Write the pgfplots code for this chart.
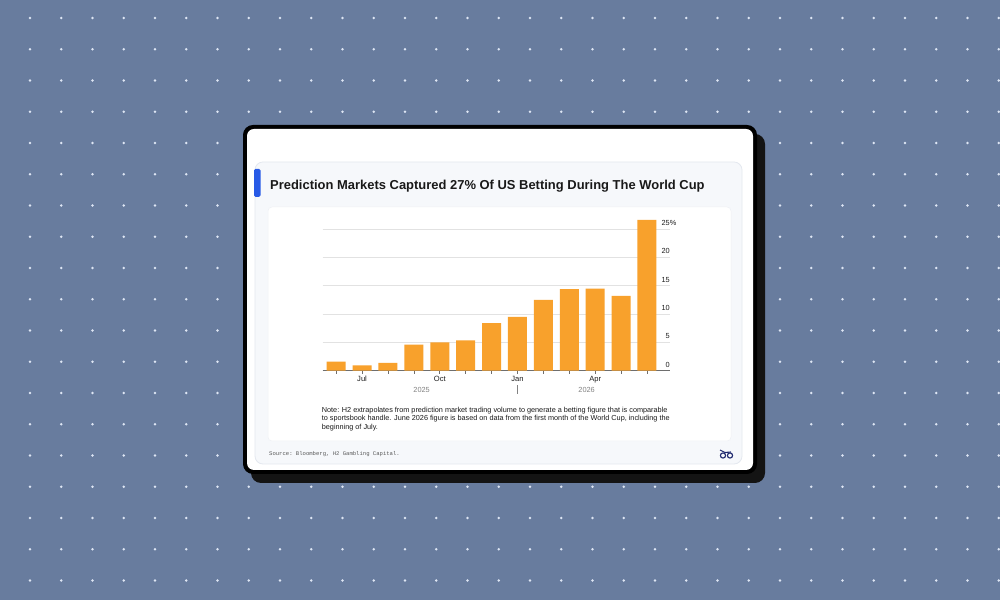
\documentclass[border=0pt]{standalone}
\usepackage{pgfplots}
\pgfplotsset{compat=1.18}
\usepackage{fontspec}
\setmainfont{Liberation Sans}
\setmonofont{Liberation Mono}
\definecolor{bgblue}{RGB}{104,124,158}
\definecolor{dotcol}{RGB}{222,230,244}
\definecolor{panelbg}{RGB}{246,248,251}
\definecolor{panelborder}{RGB}{228,232,239}
\definecolor{titleblue}{RGB}{40,90,230}
\definecolor{barorange}{RGB}{248,161,44}
\definecolor{gridgray}{RGB}{226,226,226}
\definecolor{axisgray}{RGB}{110,110,110}
\definecolor{labelgray}{RGB}{30,30,30}
\definecolor{yeargray}{RGB}{130,130,130}
\definecolor{logonavy}{RGB}{30,40,110}
\begin{document}
\begin{tikzpicture}[x=1bp,y=1bp]
\useasboundingbox (0,0) rectangle (1000,600);
\fill[bgblue] (0,0) rectangle (1000,600);
\foreach \i in {0,...,31}{
  \foreach \j in {0,...,18}{
    \fill[dotcol] ({30+31.25*\i},{600-18-31.25*\j}) circle (1.4);
  }
}
% card shadow and card
\fill[black!92, rounded corners=10] (251,{600-483}) rectangle (765,{600-134});
\fill[black, rounded corners=10] (243,{600-474}) rectangle (757,{600-125});
\fill[white, rounded corners=7] (247,{600-470}) rectangle (753,{600-129});
% panel
\filldraw[fill=panelbg, draw=panelborder, line width=0.8, rounded corners=8] (255,{600-464}) rectangle (742,{600-162});
\fill[titleblue, rounded corners=1.5] (254,{600-197}) rectangle (260.5,{600-169});
\node[anchor=base west, inner sep=0, font=\bfseries\fontsize{13}{15}\selectfont, text=black!90] at (270,{600-189.5}) {Prediction Markets Captured 27\% Of US Betting During The World Cup};
% chart panel
\filldraw[fill=white, draw=panelborder!60, line width=0.5, rounded corners=4] (268,{600-441}) rectangle (731,{600-207});

\begin{axis}[
  at={(322.7bp,229.3bp)}, anchor=south west,
  scale only axis, width=347.3bp, height=155.8bp,
  xmin=-0.52, xmax=12.89, ymin=0, ymax=27.5,
  axis x line*=bottom, axis y line*=right,
  y axis line style={draw=none},
  x axis line style={draw=axisgray, line width=0.8bp},
  xtick={0,...,12},
  xticklabels={,Jul,,,Oct,,,Jan,,,Apr,,},
  xtick align=outside,
  major tick length=3bp,
  xtick style={draw=axisgray, line width=0.6bp},
  xticklabel style={font=\fontsize{7.6}{8}\selectfont, text=labelgray, inner sep=0pt, anchor=north, yshift=-2bp},
  ytick={0,5,10,15,20,25},
  yticklabels={0,5,10,15,20,25\rlap{\%}},
  ytick style={draw=none},
  yticklabel pos=right,
  yticklabel style={font=\fontsize{7.4}{8}\selectfont, text=labelgray, inner sep=0pt, anchor=base east, xshift=0bp, yshift=3.5bp},
  ymajorgrids, grid style={draw=gridgray, line width=0.8bp},
  clip=false,
]
\addplot[ybar, bar width=19bp, bar shift=0pt, fill=barorange, draw=none] coordinates {
(0,1.6) (1,0.95) (2,1.4) (3,4.6) (4,5.0) (5,5.35) (6,8.4) (7,9.5) (8,12.5) (9,14.4) (10,14.5) (11,13.2) (12,26.6)
};
\node[font=\fontsize{7.4}{8}\selectfont, text=yeargray, anchor=center] at (axis cs:3.3,-3.4) {2025};
\node[font=\fontsize{7.4}{8}\selectfont, text=yeargray, anchor=center] at (axis cs:9.67,-3.4) {2026};
\draw[yeargray, line width=0.6bp] (axis cs:7,-2.6) -- (axis cs:7,-4.2);
\end{axis}

% note
\begin{scope}[every node/.style={anchor=base west, inner sep=0, font=\fontsize{7.3}{8}\selectfont, text=black!90}]
\node at (321.7,{600-412.5}) {Note: H2 extrapolates from prediction market trading volume to generate a betting figure that is comparable};
\node at (321.7,{600-421}) {to sportsbook handle. June 2026 figure is based on data from the first month of the World Cup, including the};
\node at (321.7,{600-429.5}) {beginning of July.};
\end{scope}
\node[anchor=base west, inner sep=0, font=\ttfamily\fontsize{5.6}{7}\selectfont, text=black!65] at (269,{600-456}) {Source: Bloomberg, H2 Gambling Capital.};
% logo
\draw[logonavy, line width=1.1] (723,{600-455.5}) circle (2.6);
\draw[logonavy, line width=1.1] (730,{600-455.5}) circle (2.6);
\draw[logonavy, line width=1.1] (720,{600-450}) -- (725,{600-452.5}) -- (731,{600-452});
\end{tikzpicture}
\end{document}
